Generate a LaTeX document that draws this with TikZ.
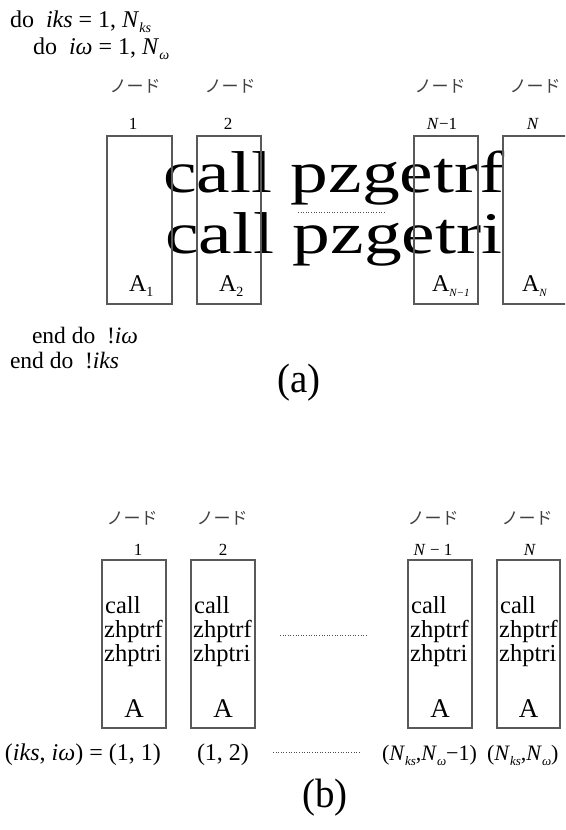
\documentclass[tikz,border=0pt]{standalone}
\usepackage{fontspec}
\usepackage{graphicx}
\setmainfont{Liberation Serif}
\newfontfamily\jpfont{Noto Sans CJK JP}
\newcommand{\fsz}[1]{\fontsize{#1}{#1}\selectfont}
% lowered italic subscript: \lsub{size}{drop}{text}
\newcommand{\lsub}[3]{\raisebox{-#2pt}{\fsz{#1}\itshape #3}}
\begin{document}
\begin{tikzpicture}[x=1pt,y=-1pt,
  txt/.style={inner sep=0pt, outer sep=0pt, anchor=base west},
  ctxt/.style={inner sep=0pt, outer sep=0pt, anchor=base},
  nodelbl/.style={inner sep=0pt, anchor=center, font=\jpfont\fsz{17}, text=black!75},
  numlbl/.style={inner sep=0pt, anchor=base, font=\fsz{17}},
  boxa/.style={draw=black!65, line width=1.1pt, inner sep=0pt, outer sep=0pt,
    anchor=north west, minimum width=64pt, minimum height=168pt},
  boxb/.style={draw=black!65, line width=1.1pt, inner sep=0pt, outer sep=0pt,
    anchor=north west, minimum width=64pt, minimum height=168pt},
  dots/.style={draw=black!70, line width=1pt, dash pattern=on 1pt off 1.6pt},
  code/.style={inner sep=0pt, anchor=base west, font=\fsz{24.5}},
]
\useasboundingbox (0,0) rectangle (565,830);

% ---------------- (a) ----------------
\node[txt, font=\fsz{24}] (do1) at (10,27) {do\ \ \textit{iks} = 1, \textit{N}\lsub{14}{5}{ks}};
\node[txt, font=\fsz{24}] (do2) at (33,54) {do\ \ \textit{iω} = 1, \textit{N}\lsub{14}{5}{ω}};

\node[nodelbl] (ja1) at (135,86) {ノード};
\node[nodelbl] (ja2) at (230,86) {ノード};
\node[nodelbl] (ja3) at (440,86) {ノード};
\node[nodelbl] (ja4) at (535,86) {ノード};

\node[numlbl] (na1) at (133,129) {1};
\node[numlbl] (na2) at (228,129) {2};
\node[numlbl] (na3) at (442,129) {\textit{N}−1};
\node[numlbl] (na4) at (533,129) {\textit{N}};

\node[txt] (cf) at (163,192) {\scalebox{1.28}[1]{\fsz{59}call pzgetrf}};
\node[txt] (ci) at (165,253) {\scalebox{1.28}[1]{\fsz{59}call pzgetri}};

\node[boxa, minimum width=65pt] (ba1) at (107,136) {};
\node[boxa] (ba2) at (197,136) {};
\node[boxa] (ba3) at (414,136) {};
\begin{scope}
  \clip (0,0) rectangle (565,830);
  \node[boxa, minimum width=70pt] (ba4) at (503,136) {};
\end{scope}

\coordinate (da1) at (298,212);
\coordinate (da2) at (386,212);
\draw[dots] (da1) -- (da2);

\node[txt, font=\fsz{24}] (aa1) at (129,291) {A\lsub{14}{5}{\upshape 1}};
\node[txt, font=\fsz{24}] (aa2) at (219,291) {A\lsub{14}{5}{\upshape 2}};
\node[txt, font=\fsz{24}] (aa3) at (432,291) {A\lsub{11}{5}{N−1}};
\node[txt, font=\fsz{24}] (aa4) at (522,291) {A\lsub{11}{5}{N}};

\node[txt, font=\fsz{23.5}] (end1) at (32,343) {end do\ \ !\textit{iω}};
\node[txt, font=\fsz{23.5}] (end2) at (10,368) {end do\ \ !\textit{iks}};

\node[inner sep=0pt, font=\fsz{41}] (capa) at (299,383) {\scalebox{0.95}[1]{(a)}};

% ---------------- (b) ----------------
\node[nodelbl] (jb1) at (132,518) {ノード};
\node[nodelbl] (jb2) at (222,518) {ノード};
\node[nodelbl] (jb3) at (433,518) {ノード};
\node[nodelbl] (jb4) at (527,518) {ノード};

\node[numlbl] (nb1) at (138,555) {1};
\node[numlbl] (nb2) at (223,555) {2};
\node[numlbl] (nb3) at (433,555) {\textit{N} − 1};
\node[numlbl] (nb4) at (530,555) {\textit{N}};

\node[boxb] (bb1) at (102,560) {};
\node[boxb] (bb2) at (191,560) {};
\node[boxb] (bb3) at (408,560) {};
\node[boxb, minimum width=63pt] (bb4) at (497,560) {};

\foreach \bx/\nm in {104/1,193/2,410/3,499/4}{
  \node[code] (call\nm) at (\bx+1,613) {call};
  \node[code] (trf\nm) at (\bx,637) {zhptrf};
  \node[code] (tri\nm) at (\bx,661) {zhptri};
}

\node[ctxt, font=\fsz{27}] (ab1) at (bb1.south |- 0,717) {A};
\node[ctxt, font=\fsz{27}] (ab2) at (bb2.south |- 0,717) {A};
\node[ctxt, font=\fsz{27}] (ab3) at (bb3.south |- 0,717) {A};
\node[ctxt, font=\fsz{27}] (ab4) at (bb4.south |- 0,717) {A};

\coordinate (db1) at (280,635);
\coordinate (db2) at (367,635);
\draw[dots] (db1) -- (db2);

\node[txt, font=\fsz{24}] (ix1) at (5,760) {(\textit{iks}, \textit{iω}) = (1, 1)};
\node[txt, font=\fsz{24}] (ix2) at (197,760) {(1, 2)};
\coordinate (dc1) at (273,752);
\coordinate (dc2) at (360,752);
\draw[dots] (dc1) -- (dc2);
\node[txt, font=\fsz{22}] (ix3) at (382,760) {(\textit{N}\lsub{13}{5}{ks},\textit{N}\lsub{13}{5}{ω}−1)};
\node[txt, font=\fsz{22}] (ix4) at (487,760) {(\textit{N}\lsub{13}{5}{ks},\textit{N}\lsub{13}{5}{ω})};

\node[inner sep=0pt, font=\fsz{41}] (capb) at (325,798) {\scalebox{0.95}[1]{(b)}};
\end{tikzpicture}
\end{document}
